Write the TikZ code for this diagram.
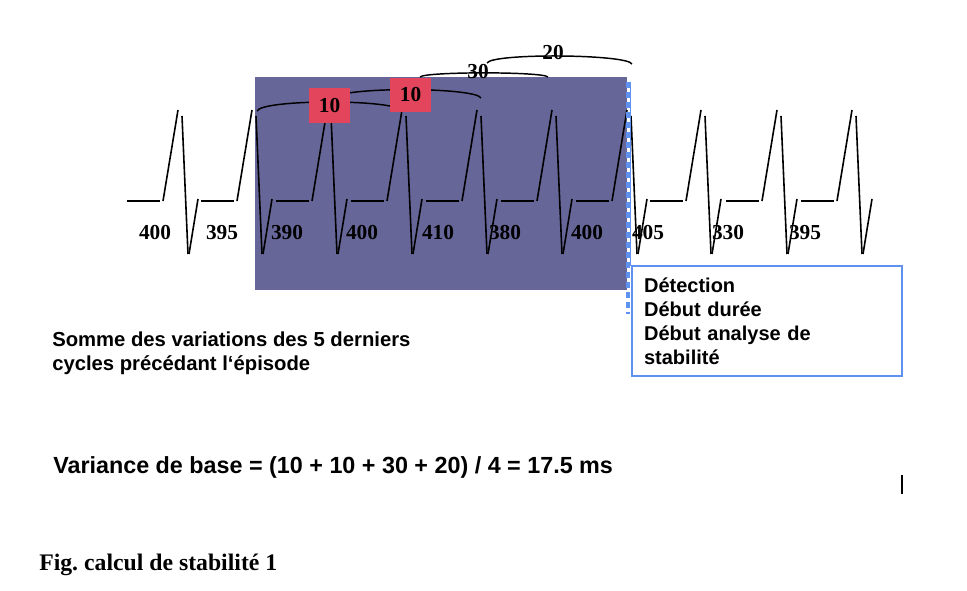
\documentclass[tikz,border=0pt]{standalone}
\usepackage{fontspec}
\setmainfont{Liberation Serif}
\setsansfont{Liberation Sans}
\definecolor{purp}{RGB}{102,102,153}
\definecolor{redbox}{RGB}{227,70,92}
\definecolor{blu}{RGB}{95,145,240}
\begin{document}
\begin{tikzpicture}[x=0.75pt,y=-0.75pt,
  wave/.style={line width=1.2pt, black},
  brace/.style={line width=1.1pt, black},
  rr/.style={font=\fontsize{16}{18}\selectfont\bfseries, inner sep=0},
  tag/.style={fill=redbox, minimum width=30.75pt, minimum height=26pt, inner sep=0, font=\fontsize{16}{18}\selectfont\bfseries},
  lbl/.style={font=\fontsize{16}{18}\selectfont\bfseries, inner sep=0},
  sanstxt/.style={font=\sffamily\bfseries\fontsize{15.2}{18}\selectfont, align=left, inner sep=0},
  infobox/.style={draw=blu, line width=1.6pt, anchor=north west, text width=184.5pt, inner xsep=9pt, inner ysep=0pt, minimum height=82.5pt, align=left, font=\sffamily\bfseries\fontsize{15}{18}\selectfont},
  dotline/.style={blu, line width=3.2pt, dash pattern=on 4.2pt off 3.3pt},
  thinline/.style={blu, line width=1pt},
]
\useasboundingbox (0,0) rectangle (967,591);
% episode window
\fill[purp] (255,77) rectangle (627,290);
% ECG trace
\foreach \P in {178,252,327,402,477,552,627,701,777,852}{
  \draw[wave] (\P-51,201) -- (\P-18,201);
  \draw[wave] (\P-15,201) -- (\P,110);
  \draw[wave] (\P+4,116) -- (\P+10,254);
  \draw[wave] (\P+11,254) -- (\P+20,199);
}
% brackets
\coordinate (b1l) at (257,111);
\coordinate (b1r) at (402,111);
\coordinate (b2l) at (329,100);
\coordinate (b2r) at (481,98);
\coordinate (b3l) at (420,77);
\coordinate (b3r) at (548,77);
\coordinate (b4l) at (487,63);
\coordinate (b4r) at (632,64);
\draw[brace] (b1l) .. controls +(5,-12) and +(-5,-12) .. (b1r);
\draw[brace] (b2l) .. controls +(5,-14) and +(-5,-11) .. (b2r);
\draw[brace] (b3l) .. controls +(5,-5.5) and +(-5,-5.5) .. (b3r);
\draw[brace] (b4l) .. controls +(5,-10) and +(-5,-10) .. (b4r);
% difference labels
\node[tag] (t1) at (329.5,105.5) {10};
\node[tag] (t2) at (410.5,95) {10};
\node[lbl] (l30) at (478,72) {30};
\node[lbl] (l20) at (553,53) {20};
% RR values
\foreach \x/\t [count=\i] in {155/400,222/395,287/390,362/400,438/410,505/380,587/400,648/405,728/330,805/395}{
  \node[rr] (rr\i) at (\x,233) {\t};
}
% detection line
\coordinate (dtop) at (628,82);
\coordinate (dbot) at (628,314);
\coordinate (ttop) at (630.5,82);
\coordinate (tbot) at (630.5,266);
\draw[thinline] (ttop) -- (tbot);
\draw[dotline] (dtop) -- (dbot);
% info box
\node[infobox] (info) at (631,265) {D\'etection\\D\'ebut dur\'ee\\D\'ebut analyse de\\stabilit\'e};
% texts
\node[sanstxt, anchor=west] (somme) at (52,353) {Somme des variations des 5 derniers\\cycles précédant l‘épisode};
\node[anchor=west, font=\sffamily\bfseries\fontsize{17.5}{21}\selectfont, inner sep=0] (var) at (53,467) {Variance de base = (10 + 10 + 30 + 20) / 4 = 17.5 ms};
\node[anchor=west, font=\bfseries\fontsize{17.8}{22}\selectfont, inner sep=0] (fig) at (39,565) {Fig.\ calcul de stabilité 1};
% small mark
\coordinate (m1) at (902,475);
\coordinate (m2) at (902,494);
\draw[line width=1.2pt] (m1) -- (m2);
\end{tikzpicture}
\end{document}
